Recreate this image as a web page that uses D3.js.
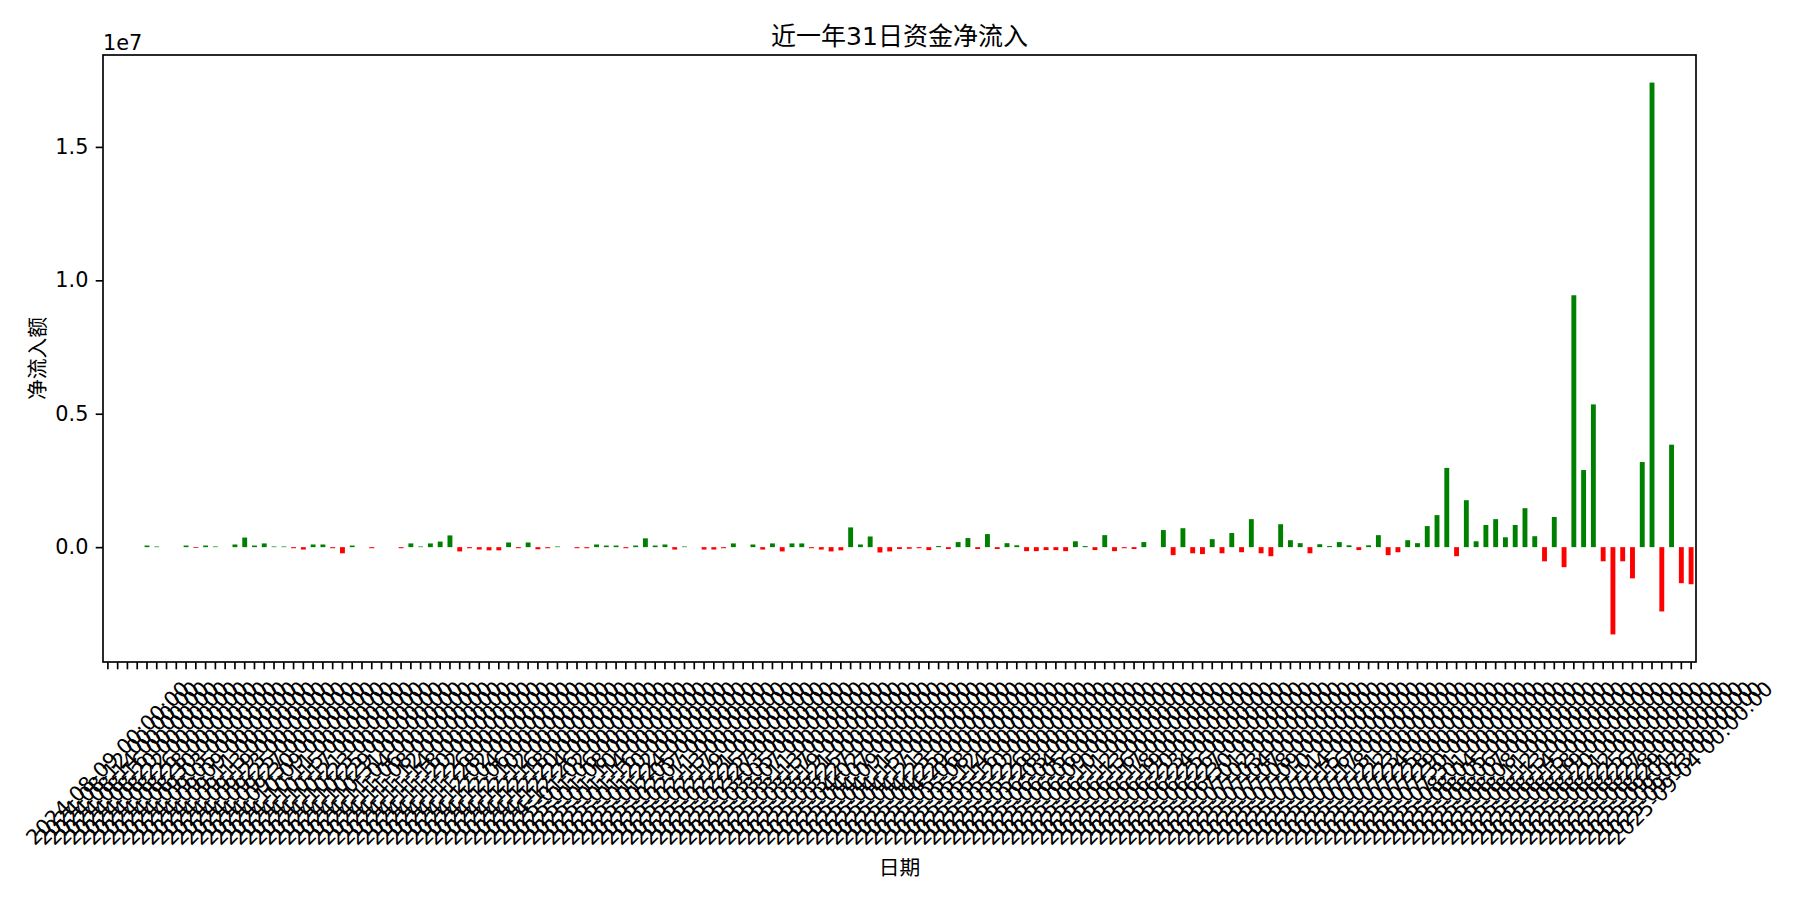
<!DOCTYPE html>
<html><head><meta charset="utf-8">
<script src="https://cdn.jsdelivr.net/npm/d3@7"></script>
<style>
html,body{margin:0;padding:0;background:#fff;}
text{font-family:"DejaVu Sans","Noto Sans CJK SC",sans-serif;fill:#000;}
</style></head>
<body>
<svg id="chart" width="1800" height="900"></svg>
<script>
const titleText = "近一年31日资金净流入";
const yLabel = "净流入额";
const xLabel = "日期";

const dates = [
"2024-08-09","2024-08-12","2024-08-14","2024-08-16","2024-08-20","2024-08-22","2024-08-26","2024-08-28","2024-08-30",
"2024-09-03","2024-09-05","2024-09-09","2024-09-11","2024-09-13","2024-09-19","2024-09-23","2024-09-25","2024-09-27","2024-09-30",
"2024-10-09","2024-10-11","2024-10-15","2024-10-17","2024-10-21","2024-10-23","2024-10-25","2024-10-29","2024-10-31",
"2024-11-04","2024-11-06","2024-11-08","2024-11-12","2024-11-14","2024-11-18","2024-11-20","2024-11-22","2024-11-26","2024-11-28",
"2024-12-02","2024-12-04","2024-12-06","2024-12-10","2024-12-12","2024-12-16","2024-12-18","2024-12-20","2024-12-24","2024-12-26",
"2025-01-02","2025-01-06","2025-01-08","2025-01-10","2025-01-14","2025-01-16","2025-01-20","2025-01-22","2025-01-24",
"2025-02-05","2025-02-07","2025-02-11","2025-02-13","2025-02-17","2025-02-19","2025-02-21","2025-02-25","2025-02-27",
"2025-03-03","2025-03-05","2025-03-07","2025-03-11","2025-03-13","2025-03-17","2025-03-19","2025-03-21","2025-03-25","2025-03-27",
"2025-04-02","2025-04-07","2025-04-09","2025-04-11","2025-04-15","2025-04-17","2025-04-21","2025-04-23","2025-04-25","2025-04-29",
"2025-05-06","2025-05-08","2025-05-12","2025-05-14","2025-05-16","2025-05-20","2025-05-22","2025-05-26","2025-05-28",
"2025-06-03","2025-06-04","2025-06-05","2025-06-06","2025-06-09","2025-06-10","2025-06-11","2025-06-12","2025-06-13","2025-06-16",
"2025-06-17","2025-06-18","2025-06-19","2025-06-20","2025-06-23","2025-06-24","2025-06-25","2025-06-26","2025-06-27","2025-06-30",
"2025-07-01","2025-07-02","2025-07-03","2025-07-04","2025-07-07","2025-07-08","2025-07-09","2025-07-10","2025-07-11","2025-07-14",
"2025-07-15","2025-07-16","2025-07-17","2025-07-18","2025-07-21","2025-07-22","2025-07-23","2025-07-24","2025-07-25","2025-07-28",
"2025-07-29","2025-07-30","2025-07-31",
"2025-08-01","2025-08-04","2025-08-05","2025-08-06","2025-08-07","2025-08-08","2025-08-11","2025-08-12","2025-08-13","2025-08-14",
"2025-08-15","2025-08-18","2025-08-19","2025-08-20","2025-08-21","2025-08-22","2025-08-25","2025-08-26","2025-08-27","2025-08-28",
"2025-08-29",
"2025-09-01","2025-09-02","2025-09-03","2025-09-04"
];

const values = [
0,0,0,0,60000,25000,0,0,60000,-30000,
60000,25000,0,100000,360000,60000,140000,25000,25000,-40000,
-90000,100000,100000,-40000,-230000,60000,0,-40000,0,0,
-40000,140000,25000,140000,210000,440000,-160000,-40000,-90000,-120000,
-120000,175000,-40000,175000,-80000,-40000,25000,0,-40000,-40000,
100000,60000,60000,-40000,60000,330000,60000,100000,-90000,25000,
0,-90000,-90000,-40000,140000,0,100000,-90000,140000,-160000,
140000,140000,-40000,-90000,-160000,-120000,740000,100000,400000,-200000,
-160000,-70000,-60000,-40000,-110000,40000,-70000,190000,340000,-70000,
490000,-70000,150000,70000,-150000,-150000,-110000,-110000,-150000,220000,
40000,-110000,450000,-150000,-40000,-70000,190000,0,640000,-300000,
710000,-230000,-260000,300000,-230000,530000,-190000,1050000,-230000,-340000,
860000,260000,150000,-230000,110000,40000,190000,70000,-110000,70000,
450000,-300000,-190000,260000,150000,790000,1200000,2970000,-340000,1760000,
220000,830000,1050000,370000,830000,1460000,410000,-530000,1130000,-750000,
9440000,2890000,5350000,-530000,-3270000,-530000,-1170000,3190000,17410000,-2410000,
3840000,-1350000,-1390000
];

const yTickValues = [0, 5000000, 10000000, 15000000];
const yOffsetLabel = "1e7";

const svg = d3.select("#chart");
const L = 103, R = 1696, T = 55, B = 662;
const lw = 1.67, tickLen = 7.3, pad = 7.3, fs = 20.8;

const data = dates.map((d, i) => ({date: d, value: values[i]}));

const x = d3.scaleBand().domain(dates).range([L, R]).paddingInner(0.5).paddingOuter(0.25);
const vmin = d3.min(values), vmax = d3.max(values);
const m = (vmax - vmin) * 0.05;
const y = d3.scaleLinear().domain([vmin - m, vmax + m]).range([B, T]);

// bars
svg.append("g").selectAll("rect").data(data).join("rect")
  .attr("x", d => x(d.date))
  .attr("width", x.bandwidth())
  .attr("y", d => Math.min(y(d.value), y(0)))
  .attr("height", d => Math.abs(y(d.value) - y(0)))
  .attr("fill", d => d.value >= 0 ? "green" : "red");

// y axis
const yAxis = svg.append("g").attr("transform", `translate(${L},0)`)
  .call(d3.axisLeft(y).tickValues(yTickValues).tickFormat(d => (d / 1e7).toFixed(1)).tickSize(tickLen).tickPadding(pad));
yAxis.select(".domain").remove();
yAxis.selectAll(".tick line").attr("stroke", "#000").attr("stroke-width", lw);
yAxis.selectAll(".tick text").attr("font-size", fs).style("font-family", '"DejaVu Sans","Noto Sans CJK SC",sans-serif');

// x axis
const xAxis = svg.append("g").attr("transform", `translate(0,${B})`)
  .call(d3.axisBottom(x).tickSize(tickLen).tickPadding(pad).tickFormat(d => d + " 00:00:00"));
xAxis.select(".domain").remove();
xAxis.selectAll(".tick line").attr("stroke", "#000").attr("stroke-width", lw);
xAxis.selectAll(".tick text")
  .attr("font-size", fs)
  .style("font-family", '"DejaVu Sans","Noto Sans CJK SC",sans-serif')
  .attr("text-anchor", "middle")
  .attr("dominant-baseline", "central")
  .attr("dy", null)
  .attr("y", 0)
  .each(function() {
    const w = this.getComputedTextLength();
    const h = 24;
    const off = tickLen + pad + (w + h) * Math.SQRT1_2 / 2;
    d3.select(this).attr("transform", `translate(0,${off}) rotate(-45)`);
  });

// frame
svg.append("rect").attr("x", L).attr("y", T).attr("width", R - L).attr("height", B - T)
  .attr("fill", "none").attr("stroke", "#000").attr("stroke-width", lw);

// offset text
svg.append("text").attr("x", L).attr("y", 50).attr("font-size", fs).text(yOffsetLabel);

// title
svg.append("text").attr("x", (L + R) / 2).attr("y", 36).attr("text-anchor", "middle")
  .attr("dominant-baseline", "central").attr("font-size", 25).text(titleText);

// y label
svg.append("text").attr("transform", `translate(37.5,${(T + B) / 2}) rotate(-90)`)
  .attr("text-anchor", "middle").attr("dominant-baseline", "central").attr("font-size", fs).text(yLabel);

// x label
svg.append("text").attr("x", (L + R) / 2).attr("y", 867.5).attr("text-anchor", "middle")
  .attr("dominant-baseline", "central").attr("font-size", fs).text(xLabel);
</script>
</body></html>
